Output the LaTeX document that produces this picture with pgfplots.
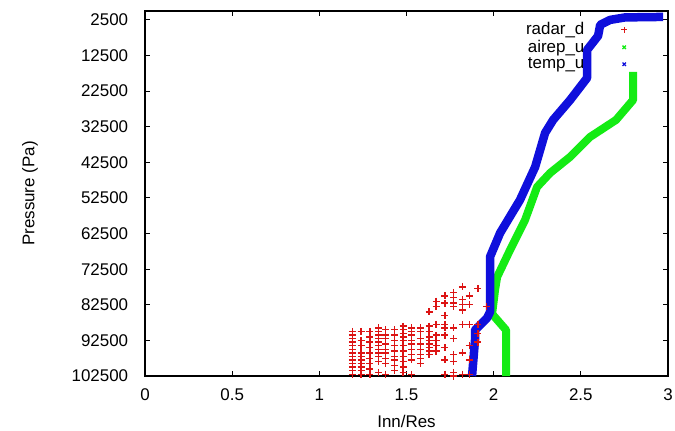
\documentclass[border=0pt]{standalone}
\usepackage{pgfplots}
\pgfplotsset{compat=1.18}
\usepackage{fontspec}
\setmainfont{Liberation Sans}
\definecolor{gred}{RGB}{220,20,20}
\definecolor{ggreen}{RGB}{20,235,20}
\definecolor{gblue}{RGB}{15,15,220}
\begin{document}
\fontsize{17}{19}\selectfont
\begin{tikzpicture}
\useasboundingbox (-145bp,-55bp) rectangle (530bp,376bp);
\begin{axis}[
  at={(0,0)}, anchor=south west,
  scale only axis, width=523bp, height=365bp,
  xmin=0, xmax=3, ymin=0, ymax=102500, y dir=reverse,
  xtick={0,0.5,1,1.5,2,2.5,3},
  xticklabels={0,0.5,1,1.5,2,2.5,3},
  ytick={2500,12500,22500,32500,42500,52500,62500,72500,82500,92500,102500},
  yticklabels={2500,12500,22500,32500,42500,52500,62500,72500,82500,92500,102500},
  tick align=inside, major tick length=5bp,
  axis line style={line width=1.1bp}, every tick/.style={black, line width=1bp},
  tick label style={font=\fontsize{17}{19}\selectfont},
  y tick label style={xshift=-11bp},
  x tick label style={yshift=-7bp},
  xlabel={Inn/Res}, ylabel={Pressure (Pa)},
  label style={font=\fontsize{17}{19}\selectfont},
  xlabel style={at={(axis description cs:0.5,-0.1233)}, anchor=center},
  ylabel style={at={(axis description cs:-0.2199,0.5)}, anchor=center},
  legend style={draw=none, fill=none, at={(axis description cs:0.922,0.975)}, anchor=north east,
    font=\fontsize{17}{19}\selectfont, row sep=-1.2bp, inner sep=0pt},
  legend cell align=right, legend plot pos=right,
]
\addplot[only marks, mark=+, mark size=3.5bp, gred, line width=1.4bp, forget plot] coordinates {
(1.19,90000)(1.19,91000)(1.19,92000)(1.19,93000)(1.19,94000)(1.19,95000)(1.19,96000)(1.19,97000)(1.19,98000)(1.19,99000)(1.19,100000)(1.19,101000)(1.19,102000)
(1.24,90000)(1.24,92500)(1.24,94000)(1.24,96000)(1.24,97000)(1.24,98000)(1.24,99000)(1.24,100000)(1.24,101000)(1.24,102000)
(1.29,90000)(1.29,91500)(1.29,93000)(1.29,94500)(1.29,96000)(1.29,97500)(1.29,99000)(1.29,100500)(1.29,102000)
(1.34,89000)(1.34,90000)(1.34,91000)(1.34,92000)(1.34,93000)(1.34,94000)(1.34,95000)(1.34,96000)(1.34,97000)(1.34,98500)(1.34,101500)
(1.38,89500)(1.38,91000)(1.38,92000)(1.38,93500)(1.38,95000)(1.38,96000)(1.38,97500)(1.38,99000)(1.38,102000)
(1.43,89500)(1.43,91000)(1.43,92500)(1.43,94000)(1.43,95500)(1.43,97000)(1.43,98000)(1.43,99500)(1.43,101000)
(1.48,88500)(1.48,89500)(1.48,90500)(1.48,91500)(1.48,92500)(1.48,94000)(1.48,95500)(1.48,97000)(1.48,98500)(1.48,100000)(1.48,101500)
(1.53,89000)(1.53,90000)(1.53,91000)(1.53,92500)(1.53,93500)(1.53,95000)(1.53,96500)(1.53,98000)(1.53,102000)
(1.58,89000)(1.58,90000)(1.58,92000)(1.58,93500)(1.58,95000)(1.58,96500)(1.58,97500)(1.58,99000)
(1.63,84500)(1.63,88500)(1.63,90000)(1.63,91500)(1.63,92500)(1.63,93500)(1.63,94500)(1.63,95500)(1.63,96500)
(1.67,81500)(1.67,83000)(1.67,88000)(1.67,91000)(1.67,92500)(1.67,94000)(1.67,95500)
(1.72,80000)(1.72,82000)(1.72,85500)(1.72,88000)(1.72,89000)(1.72,91000)(1.72,94500)(1.72,98000)(1.72,102000)
(1.77,79000)(1.77,80500)(1.77,82000)(1.77,83000)(1.77,89000)(1.77,92000)(1.77,96500)(1.77,98500)(1.77,101500)(1.77,102500)
(1.82,77500)(1.82,81000)(1.82,82500)(1.82,84000)(1.82,88000)(1.82,96000)(1.82,102000)
(1.86,80000)(1.86,82500)(1.86,88000)(1.86,94000)(1.86,98000)(1.86,102000)
(1.91,78000)(1.91,88000)(1.91,90500)(1.91,93000)
(1.96,83000)
};
\addlegendimage{only marks, mark=+, mark size=2.8bp, gred, line width=1.1bp}
\addlegendentry{radar\_d\kern35bp\mbox{}}
\addplot[ggreen, line width=8bp, line join=round, forget plot] coordinates {
(2.071,102500)(2.071,89580)(1.991,85080)(2.008,78340)(2.020,74690)(2.094,67110)(2.180,58680)(2.249,49410)(2.324,45480)(2.438,40990)(2.553,35370)(2.702,30590)(2.800,24970)(2.800,17110)
};
\addlegendimage{only marks, mark=x, mark size=2.4bp, ggreen, line width=1.3bp}
\addlegendentry{airep\_u\kern35bp\mbox{}}
\addplot[gblue, line width=8.5bp, line join=round, forget plot] coordinates {
(1.876,102500)(1.893,92390)(1.893,89580)(1.962,86210)(1.979,84520)(1.979,69070)(2.037,62330)(2.151,53060)(2.238,43790)(2.295,34240)(2.341,30590)(2.439,24970)(2.536,18790)(2.536,10930)(2.599,6990)(2.611,3900)(2.668,2500)(2.754,1800)(2.972,1660)
};
\addlegendimage{only marks, mark=x, mark size=2.4bp, gblue, line width=1.3bp}
\addlegendentry{temp\_u\kern35bp\mbox{}}
\end{axis}
\end{tikzpicture}
\end{document}
